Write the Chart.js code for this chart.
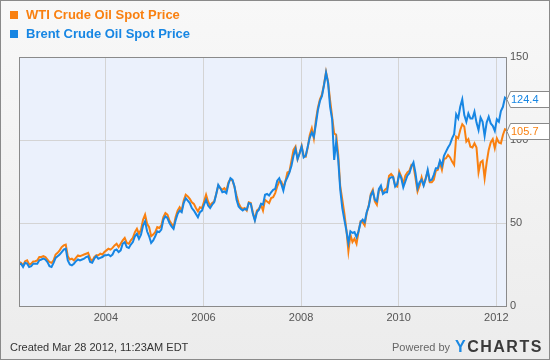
<!DOCTYPE html>
<html>
<head>
<meta charset="utf-8">
<script src="https://cdn.jsdelivr.net/npm/chart.js@4.4.1/dist/chart.umd.min.js"></script>
<style>
  html, body { margin: 0; padding: 0; background: #f4f4f4; }
  #wrap { width: 550px; height: 360px; }
</style>
</head>
<body>
<div id="wrap"><canvas id="oilChart" width="550" height="360"></canvas></div>
<script>
// half-monthly closes, first point late Mar 2002, last point Mar 23 2012
const startYear = 2002.22;
const stepYears = 1 / 24;
const xTicks = [2004, 2006, 2008, 2010, 2012];
const yTicks = [0, 50, 100, 150];
const seriesNames = ['WTI Crude Oil Spot Price', 'Brent Crude Oil Spot Price'];
const seriesColors = ['#f98010', '#1786e3'];

const wtiPrices = [
  26.5, 26.0, 24.5, 27.0, 27.5, 25.0, 25.5, 26.8, 27.0, 27.5, 29.5, 29.5, 30.0, 29.5, 28.0, 26.5, 26.0, 27.5, 31.0,
  32.0, 33.5, 35.5, 36.5, 37.0, 30.0, 28.0, 28.5, 27.5, 29.0, 30.5, 30.0, 30.5, 31.0, 31.5, 32.0, 28.5, 27.0, 29.5, 30.5, 30.5, 31.5, 31.0, 32.5,
  33.5, 34.5, 34.0, 35.0, 36.5, 37.5, 35.5, 37.5, 39.5, 41.0, 38.0, 37.5, 39.5, 41.0, 44.5, 46.5, 43.5, 46.0, 52.0, 55.0, 49.5, 47.5, 42.0, 43.0,
  44.5, 47.5, 47.0, 48.5, 53.5, 56.0, 55.0, 51.5, 49.5, 47.5, 53.5, 57.5, 59.5, 57.5, 63.5, 67.0, 66.0, 64.5, 62.5, 61.5, 59.0, 57.0, 59.5, 59.0,
  63.0, 67.0, 63.0, 60.5, 62.0, 63.0, 67.5, 72.5, 71.0, 70.0, 71.0, 69.5, 74.5, 76.5, 75.5, 71.5, 66.5, 62.0, 59.5, 58.5, 59.0, 57.5, 62.5, 62.0,
  56.5, 52.0, 57.5, 58.5, 61.0, 57.5, 64.0, 63.0, 62.0, 65.0, 65.5, 68.0, 72.0, 75.0, 75.0, 71.5, 75.0, 80.5, 81.0, 87.5, 94.0, 96.0, 88.5, 92.0,
  96.5, 90.5, 90.0, 95.5, 103.0, 107.0, 101.0, 112.0, 119.5, 124.5, 127.5, 133.5, 141.0, 135.0, 124.0, 114.0, 104.0, 103.0, 91.0, 72.0, 64.0, 56.0, 46.0, 33.0,
  43.0, 38.5, 40.5, 37.5, 45.0, 51.0, 50.5, 48.5, 56.0, 60.5, 67.5, 70.0, 63.0, 61.0, 69.5, 70.5, 68.5, 70.0, 71.0, 78.5, 79.5, 78.0, 72.5, 72.0,
  81.0, 78.0, 73.5, 78.5, 80.5, 81.5, 85.0, 84.5, 77.0, 69.0, 72.5, 77.5, 73.0, 77.0, 81.0, 74.5, 74.5, 76.0, 81.5, 82.0, 86.5, 82.0, 88.5, 89.0,
  91.0, 89.5, 87.0, 85.0, 102.0, 101.0, 106.0, 109.5, 108.0, 99.0, 100.5, 96.0, 95.5, 98.0, 95.5, 80.5, 86.5, 87.5, 77.0, 86.5, 94.0, 98.5, 100.5, 95.0,
  101.0, 98.5, 98.0, 103.0, 106.5, 105.7
];

const brentPrices = [
  25.0, 25.5, 23.5, 26.0, 25.5, 23.5, 24.0, 25.5, 25.5, 25.5, 27.5, 28.0, 28.5, 28.0, 26.5, 24.0, 23.5, 26.0, 29.0,
  30.0, 31.0, 32.5, 34.0, 34.5, 27.5, 25.0, 24.5, 25.5, 27.0, 28.0, 27.5, 28.0, 28.5, 29.5, 30.0, 26.5, 26.0, 28.5, 30.0, 28.5, 29.0, 29.5, 30.5,
  30.5, 31.0, 30.0, 31.0, 33.5, 34.0, 32.5, 33.5, 37.5, 38.5, 35.5, 35.0, 37.0, 38.5, 42.0, 43.5, 40.5, 43.0, 48.5, 51.0, 45.0, 42.0, 38.0, 39.5,
  42.0, 45.0, 44.5, 46.0, 52.0, 54.0, 53.0, 50.0, 48.0, 46.5, 51.5, 55.5, 57.5, 56.5, 62.0, 65.0, 63.5, 62.0, 59.0, 57.5, 55.5, 53.5, 56.5, 57.5,
  61.0, 64.0, 60.5, 59.0, 61.0, 62.5, 67.5, 73.0, 71.0, 68.5, 69.0, 68.0, 73.5, 77.0, 76.0, 72.0, 64.0, 60.0, 58.5, 57.5, 58.5, 58.0, 62.0, 61.5,
  55.5, 51.5, 56.5, 58.0, 61.5, 61.0, 67.0, 67.5, 66.5, 68.5, 70.0, 70.5, 75.5, 77.0, 73.5, 69.5, 75.0, 77.5, 80.5, 84.5, 90.5, 94.5, 88.5, 92.0,
  96.0, 89.5, 90.5, 96.0, 101.5, 104.5, 102.0, 109.5, 118.0, 123.5, 126.5, 133.0, 140.5, 134.5, 120.0, 112.5, 88.0, 99.0, 88.0, 70.0, 59.0, 52.0, 45.5, 38.0,
  45.0, 44.0, 44.5, 41.5, 45.0, 50.5, 52.0, 50.5, 56.5, 60.0, 66.5, 69.0, 64.0, 63.0, 70.5, 72.5, 67.5, 68.5, 68.5, 76.5, 77.5, 77.5, 72.0, 73.5,
  79.5, 77.0, 71.5, 75.0, 78.5, 80.0, 84.0, 86.5, 80.0, 71.0, 74.5, 76.0, 72.5, 76.5, 82.0, 75.5, 76.0, 79.0, 83.0, 83.0, 87.5, 84.5, 90.5, 93.0,
  95.5, 97.5, 101.0, 103.5, 115.5, 113.0, 120.0, 124.5, 115.0, 111.0, 116.0, 113.0, 113.0, 117.0, 110.5, 106.0, 113.5, 111.0, 102.5, 110.5, 114.0, 110.0, 108.5, 105.5,
  112.5, 111.0, 117.5, 120.0, 125.5, 124.4
];

const createdText = 'Created Mar 28 2012, 11:23AM EDT';

function toPoints(values) {
  return values.map((v, i) => ({ x: startYear + i * stepYears, y: v }));
}

const ycFrame = {
  id: 'ycFrame',
  beforeDraw(chart) {
    const ctx = chart.ctx;
    const a = chart.chartArea;
    ctx.save();
    const g = ctx.createLinearGradient(0, 0, 0, chart.height);
    g.addColorStop(0, '#f8f8f8');
    g.addColorStop(1, '#ececec');
    ctx.fillStyle = g;
    ctx.fillRect(0, 0, chart.width, chart.height);
    ctx.fillStyle = '#ebf1fc';
    ctx.fillRect(a.left, a.top, a.right - a.left, a.bottom - a.top);
    ctx.restore();
  },
  afterDatasetsDraw(chart) {
    const ctx = chart.ctx;
    const a = chart.chartArea;
    ctx.save();
    ctx.strokeStyle = '#8a8a8a';
    ctx.lineWidth = 1;
    ctx.strokeRect(a.left + 0.5, a.top + 0.5, a.right - a.left - 1, a.bottom - a.top);
    ctx.restore();
  },
  afterDraw(chart) {
    const ctx = chart.ctx;
    const yScale = chart.scales.y;
    ctx.save();

    // legend
    ctx.font = 'bold 13px "Liberation Sans", Arial, sans-serif';
    ctx.textBaseline = 'middle';
    seriesNames.forEach((name, i) => {
      const y = 15 + i * 19;
      ctx.fillStyle = seriesColors[i];
      ctx.fillRect(10, y - 4, 8, 8);
      ctx.fillText(name, 26, y);
    });

    // last value callouts
    ctx.font = '11px "Liberation Sans", Arial, sans-serif';
    [wtiPrices, brentPrices].forEach((vals, i) => {
      const v = vals[vals.length - 1];
      const cy = Math.round(yScale.getPixelForValue(v)) + 0.5;
      ctx.beginPath();
      ctx.moveTo(507, cy);
      ctx.lineTo(510.5, cy - 8);
      ctx.lineTo(549.5, cy - 8);
      ctx.lineTo(549.5, cy + 8);
      ctx.lineTo(510.5, cy + 8);
      ctx.closePath();
      ctx.fillStyle = '#ffffff';
      ctx.fill();
      ctx.strokeStyle = '#8a8a8a';
      ctx.stroke();
      ctx.fillStyle = seriesColors[i];
      ctx.fillText(v.toFixed(1), 511, cy + 0.5);
    });

    // footer
    ctx.fillStyle = '#333';
    ctx.font = '11px "Liberation Sans", Arial, sans-serif';
    ctx.fillText(createdText, 10, 348);
    ctx.fillStyle = '#666';
    ctx.fillText('Powered by', 392, 348);
    ctx.font = 'bold 16px "Liberation Sans", Arial, sans-serif';
    let x = 455;
    'YCHARTS'.split('').forEach((ch, i) => {
      ctx.fillStyle = i === 0 ? '#1a88e2' : '#3a3a3a';
      ctx.fillText(ch, x, 348);
      x += ctx.measureText(ch).width + 1.5;
    });

    // outer border
    ctx.strokeStyle = '#8a8a8a';
    ctx.strokeRect(0.5, 0.5, chart.width - 1, chart.height - 1);
    ctx.restore();
  }
};

new Chart(document.getElementById('oilChart'), {
  type: 'line',
  data: {
    datasets: [
      {
        label: seriesNames[0],
        data: toPoints(wtiPrices),
        borderColor: seriesColors[0],
        borderWidth: 2,
        pointRadius: 0,
        order: 1
      },
      {
        label: seriesNames[1],
        data: toPoints(brentPrices),
        borderColor: seriesColors[1],
        borderWidth: 2,
        pointRadius: 0,
        order: 0
      }
    ]
  },
  options: {
    responsive: false,
    animation: false,
    devicePixelRatio: 1,
    layout: { padding: { top: 57, left: 19, right: 0, bottom: 0 } },
    plugins: {
      legend: { display: false },
      tooltip: { enabled: false }
    },
    scales: {
      x: {
        type: 'linear',
        min: startYear,
        max: startYear + (wtiPrices.length - 1) * stepYears,
        afterBuildTicks: (scale) => { scale.ticks = xTicks.map(v => ({ value: v })); },
        afterFit: (scale) => { scale.height = 54; },
        border: { display: false },
        grid: { color: '#d4d4d4', drawTicks: false },
        ticks: {
          color: '#555',
          font: { size: 11, family: '"Liberation Sans", Arial, sans-serif' },
          padding: 5,
          maxRotation: 0,
          autoSkip: false,
          callback: (v) => String(v)
        }
      },
      y: {
        position: 'right',
        min: 0,
        max: 150,
        afterBuildTicks: (scale) => { scale.ticks = yTicks.map(v => ({ value: v })); },
        afterFit: (scale) => { scale.width = 43; },
        border: { display: false },
        grid: { color: '#d4d4d4', drawTicks: false },
        ticks: {
          color: '#555',
          font: { size: 11, family: '"Liberation Sans", Arial, sans-serif' },
          padding: 3
        }
      }
    }
  },
  plugins: [ycFrame]
});
</script>
</body>
</html>
